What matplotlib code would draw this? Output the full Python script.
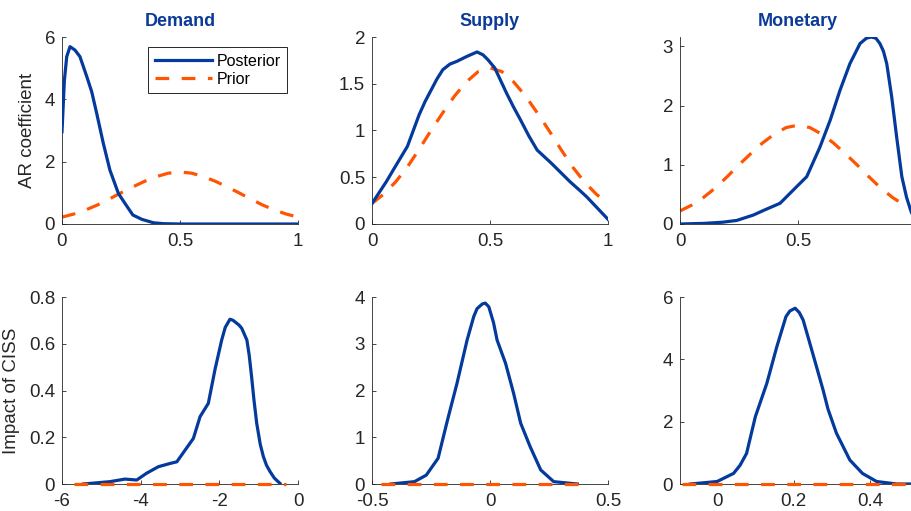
import matplotlib
matplotlib.use('Agg')
import matplotlib.pyplot as plt
from matplotlib.ticker import FuncFormatter

plt.rcParams['font.family'] = ['Liberation Sans', 'DejaVu Sans']
plt.rcParams['axes.unicode_minus'] = False

# prior on the AR coefficient (same in all three top panels)
ar_prior_x = [0.0, 0.05, 0.1, 0.15, 0.2, 0.25, 0.3, 0.35, 0.4, 0.45, 0.5,
              0.55, 0.6, 0.65, 0.7, 0.75, 0.8, 0.85, 0.9, 0.95, 1.0]
ar_prior_y = [0.22, 0.32, 0.45, 0.61, 0.80, 1.00, 1.19, 1.37, 1.52, 1.63, 1.67,
              1.63, 1.52, 1.37, 1.19, 1.00, 0.80, 0.61, 0.45, 0.32, 0.22]

# posterior of the AR coefficient
demand_ar_x = [0.0, 0.01, 0.02, 0.034, 0.055, 0.076, 0.105, 0.126, 0.147, 0.175, 0.203,
               0.239, 0.267, 0.30, 0.338, 0.387, 0.43, 0.5, 0.6, 0.7, 0.8, 0.9, 1.0]
demand_ar_y = [2.96, 4.6, 5.37, 5.69, 5.58, 5.37, 4.73, 4.24, 3.55, 2.59, 1.73,
               0.98, 0.66, 0.29, 0.15, 0.04, 0.01, 0.0, 0.0, 0.0, 0.0, 0.0, 0.0]

supply_ar_x = [0.0, 0.06, 0.1, 0.15, 0.175, 0.20, 0.225, 0.25, 0.275, 0.30, 0.33, 0.36,
               0.40, 0.445, 0.47, 0.49, 0.52, 0.57, 0.6, 0.63, 0.665, 0.70, 0.76, 0.8,
               0.84, 0.88, 0.91, 0.955, 1.0]
supply_ar_y = [0.22, 0.45, 0.62, 0.83, 1.0, 1.17, 1.31, 1.43, 1.55, 1.65, 1.71, 1.74,
               1.79, 1.84, 1.81, 1.76, 1.67, 1.40, 1.25, 1.11, 0.94, 0.79, 0.65, 0.55,
               0.45, 0.36, 0.29, 0.17, 0.05]

monetary_ar_x = [0.0, 0.1, 0.18, 0.24, 0.31, 0.36, 0.424, 0.494, 0.537, 0.593, 0.636,
                 0.678, 0.72, 0.763, 0.79, 0.81, 0.83, 0.847, 0.862, 0.876, 0.897,
                 0.918, 0.94, 0.96, 0.98, 1.0]
monetary_ar_y = [0.0, 0.01, 0.03, 0.06, 0.15, 0.24, 0.35, 0.63, 0.80, 1.30, 1.75,
                 2.26, 2.71, 3.05, 3.14, 3.16, 3.14, 3.05, 2.92, 2.71, 2.15,
                 1.47, 0.80, 0.45, 0.20, 0.05]

# posterior / prior of the CISS impact
demand_ciss_x = [-5.46, -4.78, -4.40, -4.10, -3.85, -3.55, -3.25, -3.08, -2.87, -2.66, -2.49,
                 -2.28, -2.11, -1.94, -1.85, -1.73, -1.65, -1.5, -1.43, -1.30, -1.24, -1.18,
                 -1.12, -1.05, -0.96, -0.88, -0.8, -0.71, -0.6, -0.46]
demand_ciss_y = [0.0, 0.01, 0.021, 0.017, 0.046, 0.074, 0.088, 0.095, 0.145, 0.195, 0.288,
                 0.345, 0.49, 0.616, 0.67, 0.705, 0.70, 0.68, 0.666, 0.616, 0.55, 0.459,
                 0.36, 0.26, 0.17, 0.117, 0.08, 0.053, 0.025, 0.003]
demand_ciss_prior_x = [-5.7, -4.0, -2.0, -0.3]
demand_ciss_prior_y = [0.0, 0.0, 0.0, 0.0]

supply_ciss_x = [-0.42, -0.32, -0.27, -0.22, -0.18, -0.14, -0.097, -0.069, -0.055, -0.033,
                 -0.02, -0.005, 0.015, 0.03, 0.066, 0.10, 0.13, 0.17, 0.215, 0.27, 0.37]
supply_ciss_y = [0.0, 0.05, 0.19, 0.55, 1.37, 2.15, 3.08, 3.58, 3.75, 3.85,
                 3.87, 3.79, 3.45, 3.08, 2.58, 1.94, 1.30, 0.80, 0.30, 0.05, 0.0]
supply_ciss_prior_x = [-0.46, -0.2, 0.1, 0.38]
supply_ciss_prior_y = [0.0, 0.0, 0.0, 0.0]

monetary_ciss_x = [-0.07, 0.0, 0.043, 0.06, 0.077, 0.10, 0.13, 0.156, 0.18, 0.19, 0.204,
                   0.215, 0.225, 0.25, 0.277, 0.29, 0.312, 0.347, 0.38, 0.417, 0.47, 0.52]
monetary_ciss_y = [0.0, 0.08, 0.34, 0.6, 0.98, 2.16, 3.23, 4.40, 5.37, 5.55, 5.64,
                   5.5, 5.26, 4.19, 3.02, 2.4, 1.63, 0.77, 0.34, 0.08, 0.0, 0.0]
monetary_ciss_prior_x = [-0.092, 0.1, 0.3, 0.52]
monetary_ciss_prior_y = [0.0, 0.0, 0.0, 0.0]

titles = ['Demand', 'Supply', 'Monetary']

post_color = '#033a9c'
prior_color = '#ff5500'
title_color = '#0b3a98'
axis_color = '#262626'

fig = plt.figure(figsize=(9.11, 5.11), dpi=100)

lefts = [62, 372, 680]
W, H = 911.0, 511.0
axw = 236 / W
axh = 187 / H
top_bottom = (H - 224) / H
bot_bottom = (H - 484) / H

top_data = [(demand_ar_x, demand_ar_y), (supply_ar_x, supply_ar_y), (monetary_ar_x, monetary_ar_y)]
bot_data = [(demand_ciss_x, demand_ciss_y, demand_ciss_prior_x, demand_ciss_prior_y),
            (supply_ciss_x, supply_ciss_y, supply_ciss_prior_x, supply_ciss_prior_y),
            (monetary_ciss_x, monetary_ciss_y, monetary_ciss_prior_x, monetary_ciss_prior_y)]

top_ylims = [(0, 6), (0, 2), (0, 3.16)]
top_yticks = [[0, 2, 4, 6], [0, 0.5, 1, 1.5, 2], [0, 1, 2, 3]]
bot_xlims = [(-6, 0), (-0.5, 0.5), (-0.097, 0.52)]
bot_xticks = [[-6, -4, -2, 0], [-0.5, 0, 0.5], [0, 0.2, 0.4]]
bot_ylims = [(0, 0.8), (0, 4), (0, 6)]
bot_yticks = [[0, 0.2, 0.4, 0.6, 0.8], [0, 1, 2, 3, 4], [0, 2, 4, 6]]

fmt = FuncFormatter(lambda v, _: f'{v:g}')
dash = (0, (4.3, 3.9))


def style(ax):
    for s in ['top', 'right']:
        ax.spines[s].set_visible(False)
    for s in ['left', 'bottom']:
        ax.spines[s].set_color(axis_color)
        ax.spines[s].set_linewidth(0.6)
    ax.tick_params(direction='in', length=3, width=0.6, colors=axis_color,
                   labelsize=13.5, pad=5)
    ax.tick_params(axis='x', pad=6.5)
    ax.xaxis.set_major_formatter(fmt)
    ax.yaxis.set_major_formatter(fmt)


for i in range(3):
    ax = fig.add_axes([lefts[i] / W, top_bottom, axw, axh])
    x, y = top_data[i]
    ax.plot(x, y, color=post_color, lw=2.3, label='Posterior', zorder=3,
            solid_joinstyle='round')
    ax.plot(ar_prior_x, ar_prior_y, color=prior_color, lw=2.3, linestyle=dash, label='Prior')
    ax.set_xlim(0, 1)
    ax.set_ylim(*top_ylims[i])
    ax.set_xticks([0, 0.5, 1])
    ax.set_yticks(top_yticks[i])
    style(ax)
    if i == 2:
        # the "1" label falls outside the figure in the original
        ax.set_xticklabels(['0', '0.5', ''])
    ax.set_title(titles[i], fontsize=13, fontweight='bold', color=title_color, pad=8)
    if i == 0:
        ax.set_ylabel('AR coefficient', fontsize=13.5, color=axis_color, labelpad=6)
        leg = ax.legend(loc='upper right', bbox_to_anchor=(0.955, 0.945), fontsize=11.5,
                        handlelength=3.6, fancybox=False, framealpha=1,
                        borderpad=0.4, labelspacing=0.2, handletextpad=0.3,
                        borderaxespad=0)
        leg.get_frame().set_edgecolor(axis_color)
        leg.get_frame().set_linewidth(0.7)

    ax2 = fig.add_axes([lefts[i] / W, bot_bottom, axw, axh])
    x, y, px, py = bot_data[i]
    ax2.plot(x, y, color=post_color, lw=2.3, zorder=3, solid_joinstyle='round')
    ax2.plot(px, py, color=prior_color, lw=2.3, linestyle=dash, zorder=4, clip_on=False)
    ax2.set_xlim(*bot_xlims[i])
    ax2.set_ylim(*bot_ylims[i])
    ax2.set_xticks(bot_xticks[i])
    ax2.set_yticks(bot_yticks[i])
    style(ax2)
    if i == 0:
        ax2.set_ylabel('Impact of CISS', fontsize=13.5, color=axis_color, labelpad=6)

plt.savefig('out.png', dpi=100)
